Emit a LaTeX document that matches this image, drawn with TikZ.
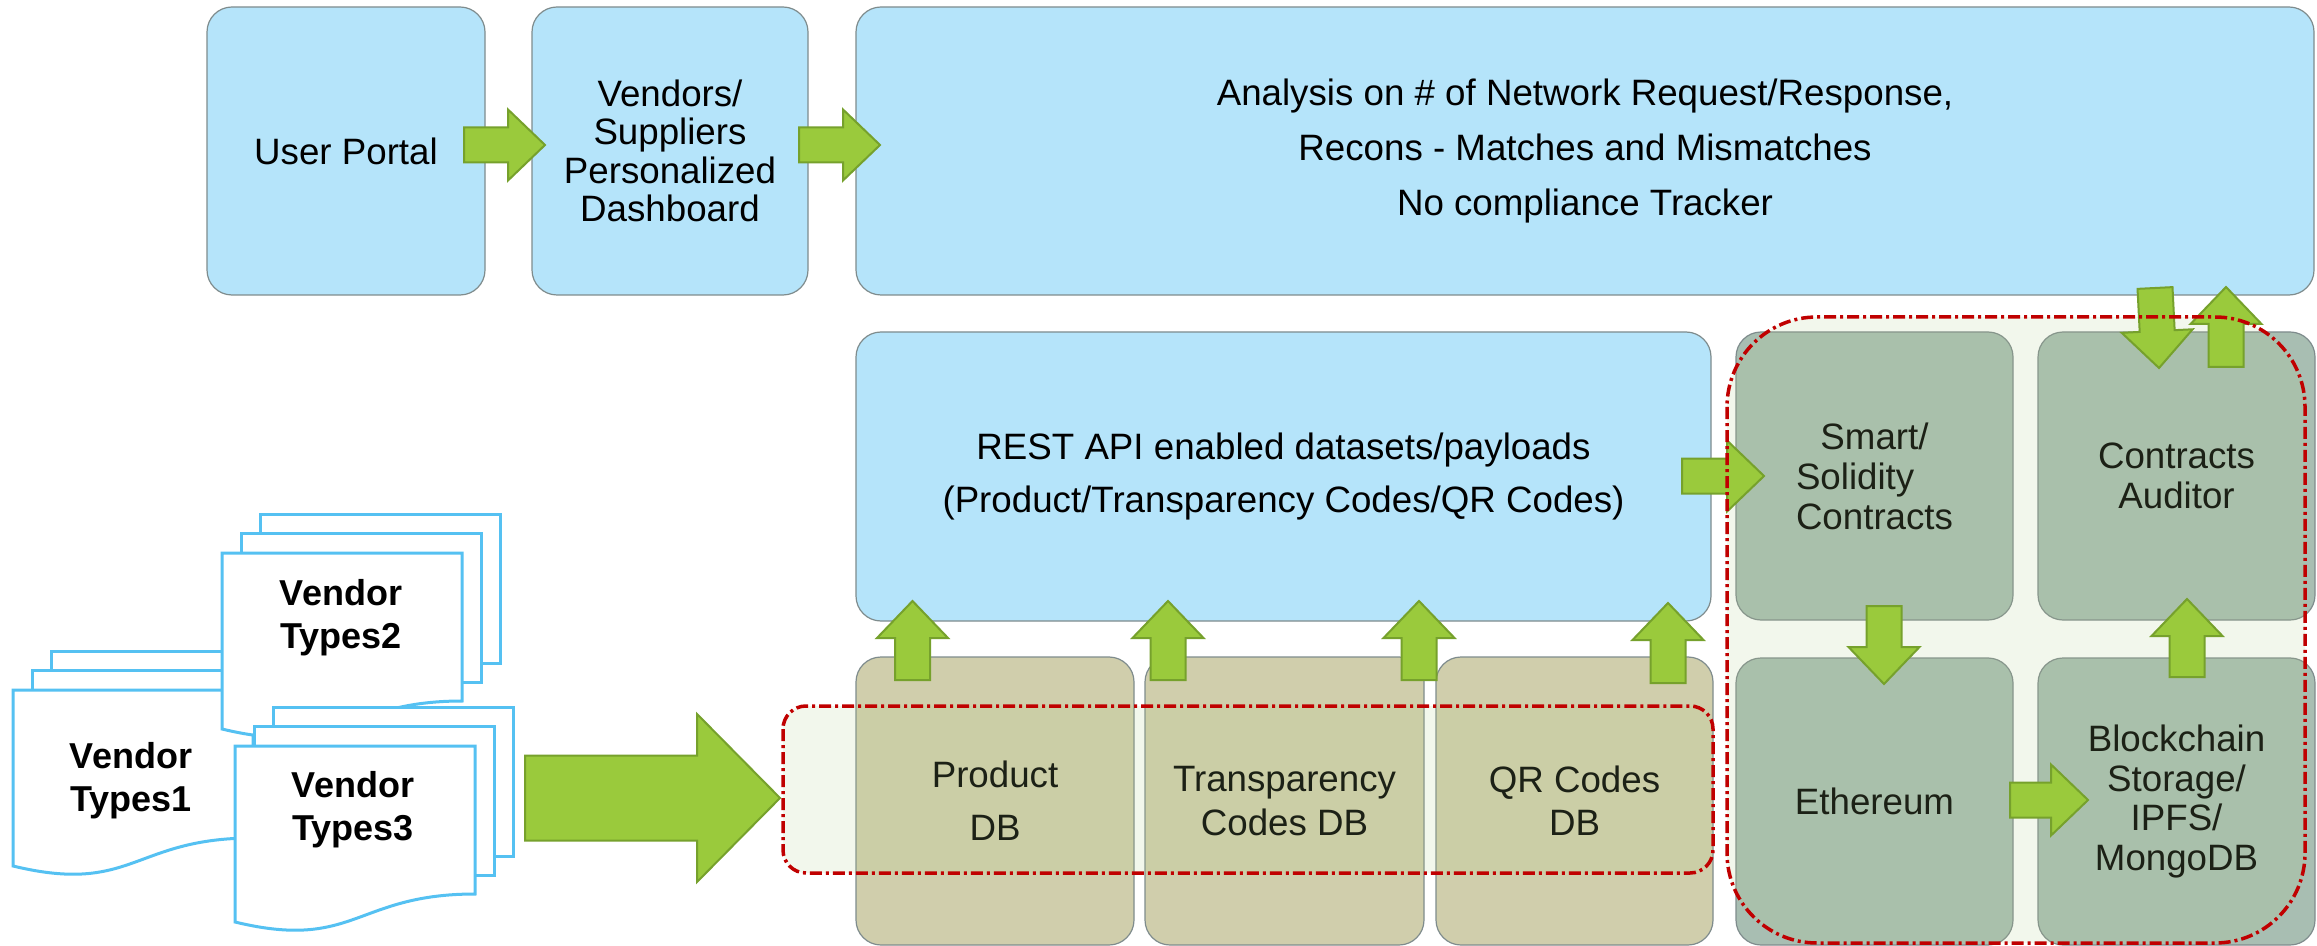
\documentclass[tikz,border=0pt]{standalone}
\usepackage{fontspec}
\usepackage{calc}
\setmainfont{Liberation Sans}

\definecolor{skyfill}{HTML}{B5E4FA}
\definecolor{tanfill}{HTML}{D0CEAC}
\definecolor{sagefill}{HTML}{A8BEB2}
\definecolor{boxedge}{HTML}{7F8C8D}
\definecolor{arrowfill}{HTML}{9ACA3C}
\definecolor{arrowedge}{HTML}{76A12C}
\definecolor{zonetint}{HTML}{B4CE89}
\definecolor{zonered}{HTML}{C00000}
\definecolor{docblue}{HTML}{55C1F2}

\newcommand\txtsize[1]{\fontsize{18.35}{#1}\selectfont}

% rounded panel given by its corners (in px) with its label
\newcommand\panel[7]{%
  \pgfmathsetmacro\pw{(#5-#3)*0.5}\pgfmathsetmacro\ph{(#6-#4)*0.5}%
  \node[#2, minimum width=\pw pt, minimum height=\ph pt] (#1) at ({(#3+#5)/2},{(#4+#6)/2}) {#7};}

% block arrow from (#1,#2) to tip (#3,#4); shaft half width #5, head half width #6, head length #7
\newcommand\barrow[7]{%
  \pgfmathsetmacro\ba{atan2(#2-#4,#3-#1)}%
  \pgfmathsetmacro\bl{veclen(#3-#1,#4-#2)}%
  \pgfmathsetmacro\bb{\bl-#7}%
  \path[blockarrow, shift={(#1,#2)}, rotate=\ba]
    (0,#5) -- (\bb,#5) -- (\bb,#6) -- (\bl,0) -- (\bb,-#6) -- (\bb,-#5) -- (0,-#5) -- cycle;}

% stack of three sheets, the front one with a wavy bottom edge
\newcommand\docstack[2]{%
  \draw[docsheet] (#1+38.5,#2-38.5) rectangle ++(240,149);
  \draw[docsheet] (#1+19.5,#2-19.5) rectangle ++(240,149);
  \draw[docsheet] (#1,#2) -- ++(240,0) -- ++(0,148)
    .. controls ++(-120,0) and (#1+120,#2+205) .. (#1,#2+176) -- cycle;}

\tikzset{
  panel/.style={draw=boxedge, line width=0.6pt, rounded corners=12.5pt, inner sep=0pt, align=center, text=black},
  bluepanel/.style={panel, fill=skyfill},
  tanpanel/.style={panel, fill=tanfill},
  sagepanel/.style={panel, fill=sagefill},
  blockarrow/.style={draw=arrowedge, fill=arrowfill, line width=1pt, line join=miter},
  zonefill/.style={fill=zonetint, fill opacity=0.16},
  zoneedge/.style={draw=zonered, line width=1.75pt, dash pattern=on 6pt off 2pt on 1.5pt off 2pt},
  docsheet/.style={draw=docblue, line width=1.5pt, fill=white, line join=miter},
  doclabel/.style={font=\bfseries\fontsize{18}{21.5}\selectfont, align=center, inner sep=0pt},
}

\begin{document}
\begin{tikzpicture}[x=0.5pt, y=-0.5pt]
\useasboundingbox[fill=white] (0,0) rectangle (2317,946);

% top row
\panel{portal}{bluepanel, font=\txtsize{19}}{207}{7}{485}{295}{User Portal}
\panel{dashboard}{bluepanel, font=\txtsize{19.15}}{532}{7}{808}{295}{Vendors/\\Suppliers\\Personalized\\Dashboard}
\panel{analysis}{bluepanel, font=\txtsize{27.5}}{856}{7}{2314}{295}{Analysis on \# of Network Request/Response,\\Recons - Matches and Mismatches\\No compliance Tracker}

% data services
\panel{rest}{bluepanel, font=\txtsize{26.5}}{856}{332}{1711}{621}{REST API enabled datasets/payloads\\(Product/Transparency Codes/QR Codes)}
\panel{productdb}{tanpanel, font=\txtsize{26.5}}{856}{657}{1134}{945}{Product\\DB}
\panel{transdb}{tanpanel, font=\txtsize{21.65}}{1145}{657}{1424}{945}{Transparency\\Codes DB}
\panel{qrdb}{tanpanel, font=\txtsize{21.65}}{1436}{657}{1713}{945}{QR Codes\\DB}

% blockchain layer
\panel{smart}{sagepanel, font=\txtsize{20}}{1736}{332}{2013}{620}{Smart/\\\makebox[\widthof{Contracts}][l]{Solidity}\\Contracts}
\panel{auditor}{sagepanel, font=\txtsize{20}}{2038}{332}{2315}{620}{Contracts\\Auditor}
\panel{ethereum}{sagepanel, font=\txtsize{20}}{1736}{658}{2013}{945}{Ethereum}
\panel{storage}{sagepanel, font=\txtsize{19.75}}{2038}{658}{2315}{945}{Blockchain\\Storage/\\IPFS/\\MongoDB}

% vendor feeds
\docstack{13}{690}
\node[doclabel] (types1) at (131,781) {Vendor\\Types1};
\docstack{222}{553}
\node[doclabel] (types2) at (341,618) {Vendor\\Types2};
\docstack{235}{746}
\node[doclabel] (types3) at (353,810) {Vendor\\Types3};

% tinted groupings
\path[zonefill, rounded corners=11.5pt] (783,706) rectangle (1713,873);
\path[zonefill, rounded corners=45pt] (1727,317) rectangle (2305,943);

% flow arrows
\barrow{464}{145}{545}{145}{17.5}{35.5}{37}
\barrow{799}{145}{880}{145}{17.5}{35.5}{37}
\barrow{912.5}{680}{912.5}{601}{17.5}{35.5}{37}
\barrow{1168}{680}{1168}{601}{17.5}{35.5}{37}
\barrow{1419}{680}{1419}{601}{17.5}{35.5}{37}
\barrow{1668}{683}{1668}{603}{17.5}{35.5}{37}
\barrow{525}{798}{780}{798}{42.5}{84}{83}
\barrow{1682}{476}{1764}{476}{17.5}{35.5}{37}
\barrow{1884}{606}{1884}{684}{17.5}{35.5}{37}
\barrow{2010}{800}{2088}{800}{17.5}{35.5}{37}
\barrow{2187}{677}{2187}{599}{17.5}{35.5}{37}
\barrow{2155}{288}{2159}{368}{17.5}{35.5}{37}
\barrow{2226}{367}{2226}{287}{17.5}{35.5}{37}

% group outlines
\path[zoneedge, rounded corners=11.5pt] (783,706) rectangle (1713,873);
\path[zoneedge, rounded corners=45pt] (1727,317) rectangle (2305,943);
\end{tikzpicture}
\end{document}
